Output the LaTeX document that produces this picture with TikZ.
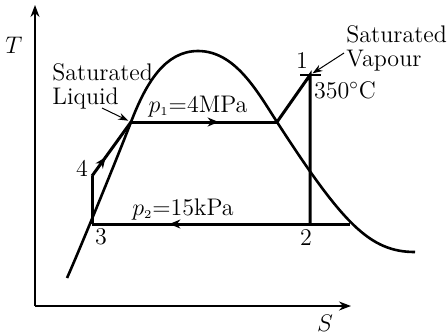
\documentclass[tikz,border=0pt]{standalone}
\usetikzlibrary{arrows.meta,decorations.markings}
\begin{document}
\begin{tikzpicture}[x=0.5pt,y=-0.5pt,
  every node/.style={font=\fontsize{12}{12}\selectfont, inner sep=0pt},
  axis/.style={line width=0.7pt,-{Stealth[length=6pt,width=4.5pt]}},
  dome/.style={line width=1.3pt},
  cyc/.style={line width=1.5pt, line join=miter},
  callout/.style={line width=0.5pt,-{Stealth[length=5pt,width=3.5pt]}},
  midarrow/.style={postaction={decorate},decoration={markings,mark=at position #1 with {\arrow{Stealth[length=5.5pt,width=4.5pt]}}}}
]
\useasboundingbox (0,0) rectangle (448,333);
% axes
\coordinate (O) at (35,306);
\coordinate (Ttip) at (35,5);
\coordinate (Stip) at (351,306);
\draw[axis] (O) -- (Ttip);
\draw[axis] (O) -- (Stip);
\node (Tlab) at (14,45) {$T$};
\node (Slab) at (325,323) {$S$};
% cycle points
\coordinate (p3) at (92,224);
\coordinate (p4) at (92,176);
\coordinate (A) at (131,122);
\coordinate (B) at (277,122);
\coordinate (p1) at (310,75);
\coordinate (p2) at (310,224);
\coordinate (C) at (350,224);
% dome
\draw[dome] (67,278) .. controls (77,256) and (116,161) .. (A)
  .. controls (146,83) and (165,51) .. (198,51)
  .. controls (235,51) and (257,91) .. (B)
  .. controls (343,224) and (370,252) .. (415,252);
% cycle
\draw[cyc] (p3) -- (p4);
\draw[cyc, midarrow=0.35] (p4) -- (A);
\draw[cyc, midarrow=0.6] (A) -- (B);
\draw[cyc] (B) -- (p1) -- (p2);
\draw[cyc, midarrow=0.7] (C) -- (p3);
\draw[line width=1pt] ([xshift=-5pt]p1) -- ([xshift=5.5pt]p1);
% labels
\node (l1) at (302,61) {1};
\node (l2) at (306,238) {2};
\node (l3) at (101,237) {3};
\node (l4) at (82,168) {4};
\node (temp) at (345,90) {350$^\circ$C};
\node[anchor=base] (pone) at (198,112) {$p_{\scriptscriptstyle 1}{=}$4MPa};
\node[anchor=base] (ptwo) at (183,215) {$p_{\scriptscriptstyle 2}{=}$15kPa};
\node[anchor=north west, align=left] (satliq) at (52,63) {Saturated\\Liquid};
\node[anchor=north west, align=left] (satvap) at (346,25) {Saturated\\Vapour};
\coordinate (la) at (102,108);
\coordinate (va) at (344,53);
\draw[callout, shorten >=1.5pt] (la) -- (A);
\draw[callout, shorten >=1.5pt] (va) -- (p1);
\end{tikzpicture}
\end{document}
